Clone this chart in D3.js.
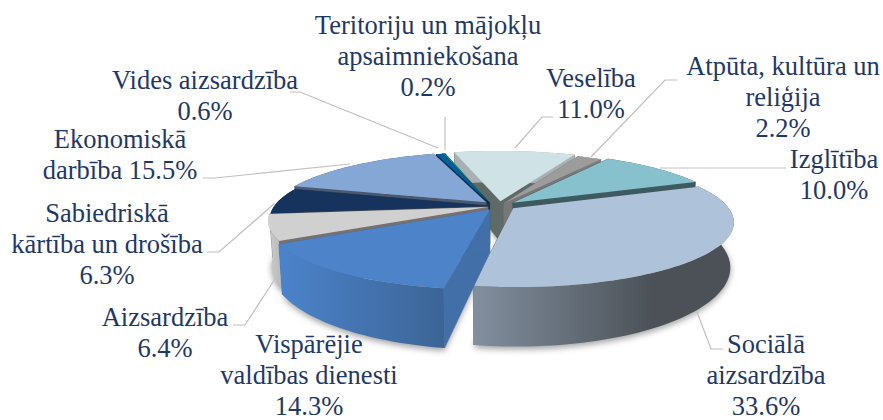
<!DOCTYPE html>
<html>
<head>
<meta charset="utf-8">
<script src="https://cdn.jsdelivr.net/npm/d3@7"></script>
<style>
  html, body { margin: 0; background: #fff; }
</style>
</head>
<body>
<svg id="chart" width="883" height="420"></svg>
<script>
// data, clockwise from the back of the pie
const categories = ["Veselība", "Atpūta, kultūra un reliģija", "Izglītība", "Sociālā aizsardzība",
  "Vispārējie valdības dienesti", "Aizsardzība", "Sabiedriskā kārtība un drošība",
  "Ekonomiskā darbība", "Vides aizsardzība", "Teritoriju un mājokļu apsaimniekošana"];
const values = [11.0, 2.2, 10.0, 33.6, 14.3, 6.4, 6.3, 15.5, 0.6, 0.2];

// how the label of each slice breaks into lines
const labelLines = [
  ["Veselība", "11.0%"],
  ["Atpūta, kultūra un", "reliģija", "2.2%"],
  ["Izglītība", "10.0%"],
  ["Sociālā", "aizsardzība", "33.6%"],
  ["Vispārējie", "valdības dienesti", "14.3%"],
  ["Aizsardzība", "6.4%"],
  ["Sabiedriskā", "kārtība un drošība", "6.3%"],
  ["Ekonomiskā", "darbība 15.5%"],
  ["Vides aizsardzība", "0.6%"],
  ["Teritoriju un mājokļu", "apsaimniekošana", "0.2%"]
];

// label anchor (centre x, first baseline y)
const labelAt = [[591, 87], [783, 75], [834, 168], [766, 353], [309, 353], [165, 326], [107, 222], [120, 148], [205, 89], [428, 34]];
// leader polylines, one per label
const leaders = [
  [[515, 148], [542, 117], [553, 117]],
  [[591, 157], [665, 80], [677, 80]],
  [[660, 168], [786, 168]],
  [[697, 312], [711, 349], [723, 349]],
  [[275, 279], [245, 325], [233, 325]],
  [[275, 203], [219, 252], [207, 252]],
  [[350, 164], [215, 178], [203, 178]],
  [[438, 148], [300, 92], [290, 92]],
  [[445, 150], [445, 117]]
];

// top surface, cut wall, outer wall (left, right of the gradient)
const topColors = ["#cfe2e6", "#9c9c9c", "#88c1ce", "#aec3da", "#4d84c9", "#d0d0d0", "#15335c", "#84a7d6", "#00609f", "#008a8a"];
const cutColors = ["#5f6a68", "#777777", "#3c5a60", "#55616d", "#426fa8", "#777070", "#28384f", "#4a5870", "#0c2c50", "#056060"];
const wallLeft = ["#a8b0b2", "#7c7c7c", "#3c5a60", "#828f9f", "#4b83cb", "#cccccc", "#15335c", "#4a5870", "#0c2c50", "#056060"];
const wallRight = ["#a8b0b2", "#7c7c7c", "#3c5a60", "#4b5157", "#3c6596", "#bdbdbd", "#15335c", "#4a5870", "#0c2c50", "#056060"];
// explosion of each slice, share of the radius, and how far it turns off the slice's middle
const explode = [0.08, 0.05, 0.085, 0.075, 0.075, 0.055, 0.05, 0.085, 0.07, 0.07];
const explodeTurn = [0, 0, 0, -10, 0, 0, 0, 0, -24, -24];
// painter's order, back to front
const drawOrder = [0, 9, 8, 7, 1, 2, 6, 5, 3, 4];

const svg = d3.select("#chart");
const centerX = 499, centerY = 206;
const radiusX = 214, radiusY = 62, persp = 0.2, depth = 42, floorShrink = 0.985;
const rotation = -15 * Math.PI / 180;

const arcs = d3.pie().sort(null).startAngle(rotation).endAngle(rotation + 2 * Math.PI)(values);

// disc coordinates -> screen, nearer points come out larger, the floor of the pie a bit smaller
function project(u, v, drop) {
  const k = 1 / (1 - persp * v);
  const sx = drop ? floorShrink : 1;
  return [centerX + radiusX * u * k * sx, centerY + radiusY * v * k + (drop || 0) * Math.pow(k, 1.5)];
}

const lineGen = d3.line();

function slicePoints(d, i) {
  const mid = (d.startAngle + d.endAngle) / 2 + explodeTurn[i] * Math.PI / 180;
  const ox = explode[i] * Math.sin(mid), oy = -explode[i] * Math.cos(mid);
  const n = Math.max(2, Math.ceil((d.endAngle - d.startAngle) / 0.03));
  const rim = d3.range(n + 1).map(j => {
    const a = d.startAngle + (d.endAngle - d.startAngle) * j / n;
    return [ox + Math.sin(a), oy - Math.cos(a)];
  });
  return { apex: [ox, oy], rim };
}

const defs = svg.append("defs");
const blur = defs.append("filter").attr("id", "soft")
  .attr("x", "-10%").attr("y", "-30%").attr("width", "120%").attr("height", "160%");
blur.append("feGaussianBlur").attr("stdDeviation", 3);

const slices = arcs.map((d, i) => ({ i, ...slicePoints(d, i) }));

// soft shadow under the front of the pie
svg.append("g").attr("filter", "url(#soft)").attr("opacity", 0.5)
  .selectAll("path").data(slices).join("path")
  .attr("d", s => lineGen([s.apex, ...s.rim].map(p => project(p[0], p[1], depth + 2))) + "Z")
  .attr("fill", "#444");

// leader lines
svg.append("g").selectAll("path").data(leaders).join("path")
  .attr("d", lineGen).attr("fill", "none").attr("stroke", "#bfbfbf").attr("stroke-width", 1.2);

const pie = svg.append("g");
drawOrder.forEach(i => {
  const s = slices[i];
  const g = pie.append("g");
  const top = s.rim.map(p => project(p[0], p[1]));
  const bottom = s.rim.map(p => project(p[0], p[1], depth));
  const apexTop = project(s.apex[0], s.apex[1]);
  const apexBottom = project(s.apex[0], s.apex[1], depth);

  const gradId = "wall" + i;
  const grad = defs.append("linearGradient").attr("id", gradId).attr("gradientUnits", "userSpaceOnUse")
    .attr("x1", d3.min(top, p => p[0])).attr("x2", i === 3 ? d3.max(top, p => p[0]) - 80 : d3.max(top, p => p[0]))
    .attr("y1", 0).attr("y2", 0);
  grad.append("stop").attr("offset", 0).attr("stop-color", wallLeft[i]);
  grad.append("stop").attr("offset", 1).attr("stop-color", wallRight[i]);

  // the two cut walls, then the rim, then the top
  [[top[0], bottom[0]], [top[top.length - 1], bottom[bottom.length - 1]]].forEach(e => {
    g.append("path").attr("d", lineGen([apexTop, e[0], e[1], apexBottom]) + "Z")
      .attr("fill", cutColors[i]).attr("stroke", cutColors[i]).attr("stroke-width", 0.5);
  });
  g.append("path").attr("d", lineGen([...top, ...bottom.slice().reverse()]) + "Z")
    .attr("fill", `url(#${gradId})`);
  g.append("path").attr("d", lineGen([apexTop, ...top]) + "Z").attr("fill", topColors[i]);
});

// labels
const lineHeight = 31;
svg.append("g").attr("font-family", "'Liberation Serif', 'Times New Roman', serif")
  .attr("font-size", 26.5).attr("fill", "#1f3864").attr("text-anchor", "middle")
  .selectAll("text").data(labelLines).join("text")
  .attr("x", (d, i) => labelAt[i][0])
  .attr("y", (d, i) => labelAt[i][1])
  .each(function (lines, i) {
    d3.select(this).selectAll("tspan").data(lines).join("tspan")
      .attr("x", labelAt[i][0])
      .attr("dy", (l, j) => j ? lineHeight : 0)
      .text(l => l);
  });
</script>
</body>
</html>
